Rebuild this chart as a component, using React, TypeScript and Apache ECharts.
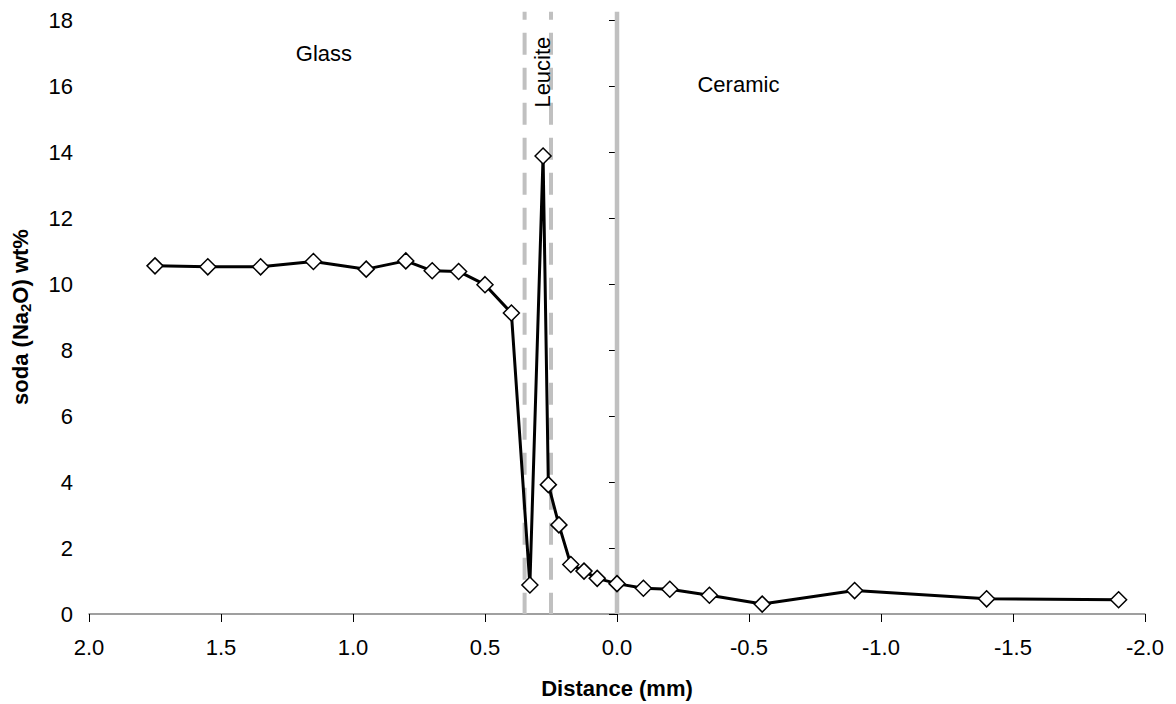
import React, { useEffect, useRef } from "react";
import * as echarts from "echarts";

const distance = [1.75, 1.55, 1.35, 1.15, 0.95, 0.8, 0.7, 0.6, 0.5, 0.4, 0.33, 0.28, 0.26, 0.22, 0.175, 0.125, 0.075, 0.0, -0.1, -0.2, -0.35, -0.55, -0.9, -1.4, -1.9];
const soda = [10.55, 10.52, 10.52, 10.68, 10.45, 10.7, 10.4, 10.38, 9.98, 9.12, 0.88, 13.88, 3.92, 2.7, 1.5, 1.3, 1.08, 0.92, 0.78, 0.75, 0.57, 0.3, 0.71, 0.46, 0.43];
const dashedBoundaries = [0.35, 0.25];
const solidBoundaries = [0.0];
const boundaryTop = 18.25;
const regionLabels = [
  { text: "Glass", x: 1.11, y: 17.0, rotate: false },
  { text: "Ceramic", x: -0.46, y: 16.05, rotate: false },
  { text: "Leucite", x: 0.284, y: 16.42, rotate: true },
];

const FONT = "'Liberation Sans', Arial, sans-serif";
const FS = 22;

export default function App() {
  const ref = useRef<HTMLDivElement>(null);
  useEffect(() => {
    if (!ref.current) return;
    const chart = echarts.init(ref.current, undefined, { renderer: "svg" });
    const pts = distance.map((d, i) => [d, soda[i]]);
    const boundarySeries = [
      ...dashedBoundaries.map((v) => ({
        type: "line",
        data: [[v, boundaryTop], [v, 0]],
        clip: false,
        symbol: "none",
        silent: true,
        lineStyle: { color: "#c0c0c0", width: 4, type: [22, 13], dashOffset: 14 },
        z: 1,
      })),
      ...solidBoundaries.map((v) => ({
        type: "line",
        data: [[v, boundaryTop], [v, 0]],
        clip: false,
        symbol: "none",
        silent: true,
        lineStyle: { color: "#c0c0c0", width: 4.5, type: "solid" },
        z: 1,
      })),
    ];
    chart.setOption({
      animation: false,
      backgroundColor: "#ffffff",
      textStyle: { fontFamily: FONT },
      grid: { left: 89, right: 31, top: 20, bottom: 90, containLabel: false },
      xAxis: {
        type: "value",
        inverse: true,
        min: -2,
        max: 2,
        interval: 0.5,
        name: "Distance (mm)",
        nameLocation: "middle",
        nameGap: 63,
        nameTextStyle: { fontFamily: FONT, fontSize: FS, fontWeight: "bold", color: "#000" },
        axisLine: { lineStyle: { color: "#808080", width: 1.5 } },
        axisTick: { show: true, length: 8, lineStyle: { color: "#000" } },
        axisLabel: { fontFamily: FONT, fontSize: FS, color: "#000", margin: 22, formatter: (v: number) => v.toFixed(1) },
        splitLine: { show: false },
      },
      yAxis: {
        type: "value",
        min: 0,
        max: 18,
        interval: 2,
        name: "soda (Na{sub|2}O) wt%",
        nameLocation: "middle",
        nameGap: 56,
        nameTextStyle: {
          fontFamily: FONT,
          fontSize: 22,
          fontWeight: "bold",
          color: "#000",
          rich: {
            sub: { fontFamily: FONT, fontSize: 15, fontWeight: "bold", color: "#000", padding: [10, 0, 0, 0] },
          },
        },
        axisLine: { show: true, lineStyle: { color: "#000", width: 1 } },
        axisTick: { show: true, length: 8, lineStyle: { color: "#000" } },
        axisLabel: { fontFamily: FONT, fontSize: FS, color: "#000", margin: 16 },
        splitLine: { show: false },
      },
      series: [
        ...boundarySeries,
        {
          type: "line",
          data: pts,
          symbol: "diamond",
          symbolSize: 16,
          lineStyle: { color: "#000", width: 3 },
          itemStyle: { color: "#fff", borderColor: "#000", borderWidth: 1.5 },
          z: 5,
        },
      ],
    });
    const graphics = regionLabels.map((l) => {
      const p = chart.convertToPixel({ gridIndex: 0 }, [l.x, l.y]) as number[];
      return {
        type: "text",
        x: p[0],
        y: p[1],
        rotation: l.rotate ? Math.PI / 2 : 0,
        style: {
          text: l.text,
          fill: "#000",
          font: `${FS}px ${FONT}`,
          align: "center",
          verticalAlign: "middle",
        },
        z: 10,
      };
    });
    chart.setOption({ graphic: graphics });
    return () => chart.dispose();
  }, []);
  return <div ref={ref} style={{ width: 1176, height: 704, position: "absolute", left: 0, top: 0 }} />;
}
